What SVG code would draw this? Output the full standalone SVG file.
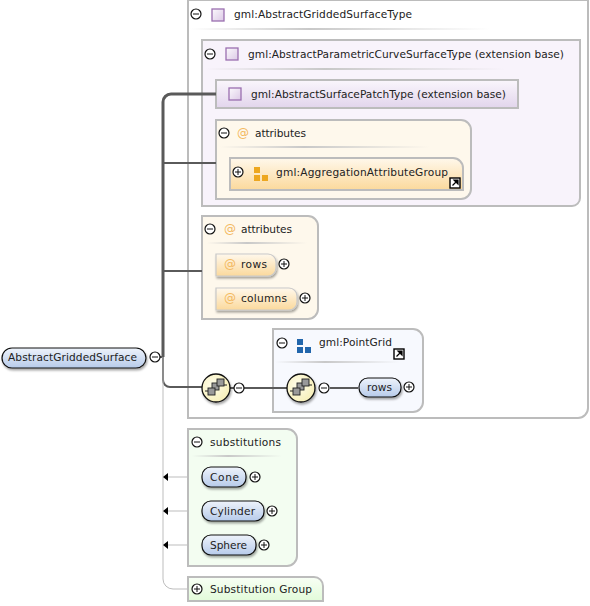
<svg xmlns="http://www.w3.org/2000/svg" width="590" height="606" viewBox="0 0 590 606">
<style>
text{font-family:"DejaVu Sans","Liberation Sans",sans-serif;font-size:10.6px;fill:#222}
.box{stroke:#bcbcbc;stroke-width:2}
.el{stroke:#111;stroke-width:1.2;fill:url(#blue)}
.tg{stroke:#111;stroke-width:1.2;fill:#fff}
.tl{stroke:#111;stroke-width:1;fill:none}
.at{stroke:#c9c9c9;stroke-width:1.2;fill:url(#orange)}
.cn{stroke:#5a5a5a;fill:none;stroke-width:2}
.cl{stroke:#bdbdbd;fill:none;stroke-width:1}
.ic{fill:url(#pur);stroke:#9a6fb0;stroke-width:1.3}
.at-i{fill:#f3b95f;font-size:12px}
.seq{fill:url(#yel);stroke:#111;stroke-width:1.3}
</style>
<defs>
<linearGradient id="blue" x1="0" y1="0" x2="0" y2="1"><stop offset="0" stop-color="#eef3fb"/><stop offset="1" stop-color="#b7cbea"/></linearGradient>
<linearGradient id="orange" x1="0" y1="0" x2="0" y2="1"><stop offset="0" stop-color="#fff8ec"/><stop offset="1" stop-color="#fbd99c"/></linearGradient>
<linearGradient id="pur" x1="0" y1="0" x2="1" y2="1"><stop offset="0" stop-color="#fbf9fc"/><stop offset="1" stop-color="#dcc9e6"/></linearGradient>
<linearGradient id="patch" x1="0" y1="0" x2="0" y2="1"><stop offset="0" stop-color="#faf6fc"/><stop offset="1" stop-color="#e2d5ec"/></linearGradient>
<linearGradient id="green" x1="0" y1="0" x2="0" y2="1"><stop offset="0" stop-color="#f8fff5"/><stop offset="1" stop-color="#e2fbd9"/></linearGradient>
<radialGradient id="yel" cx="0.4" cy="0.4" r="0.7"><stop offset="0" stop-color="#fffdeb"/><stop offset="1" stop-color="#f6eeb4"/></radialGradient>
<linearGradient id="sepg" x1="0" y1="0" x2="1" y2="0"><stop offset="0" stop-color="#ccc" stop-opacity="0"/><stop offset="0.4" stop-color="#c8c8c8"/><stop offset="1" stop-color="#ccc" stop-opacity="0"/></linearGradient>
<g id="minus"><circle r="5" class="tg"/><path d="M-3 0H3" class="tl"/></g>
<g id="plus"><circle r="5" class="tg"/><path d="M-3 0H3M0 -3V3" class="tl"/></g>
<g id="link"><rect x="-5" y="-5" width="10" height="10" fill="#fff" stroke="#000" stroke-width="1.4"/><path d="M-2.5 2.5L1.5 -1.5M-1 -3H3V1Z" stroke="#000" fill="#000" stroke-width="1.2"/></g>
<g id="seqi"><circle r="14" class="seq" filter="url(#sh)"/><path d="M-11 3H-8M8 -3H11" stroke="#222"/><rect x="-4" y="-5" width="7" height="7" fill="#999" stroke="#222" stroke-width=".9"/><rect x="1" y="-9" width="7" height="7" fill="#999" stroke="#222" stroke-width=".9"/><rect x="-8" y="0" width="7" height="7" fill="#999" stroke="#222" stroke-width=".9"/></g>
<g id="grp"><rect x="0" y="0" width="6" height="6"/><rect x="0" y="8" width="6" height="6"/><rect x="8" y="8" width="6" height="6"/></g>
<filter id="sh" x="-10%" y="-20%" width="120%" height="150%"><feDropShadow dx="1" dy="2" stdDeviation="1" flood-color="#000" flood-opacity=".35"/></filter>
</defs>

<g id="type-box"><path d="M188 0H588V408a10 10 0 0 1-10 10H188Z" fill="#fff" class="box"/><use href="#minus" x="196" y="14"/><rect x="212" y="9" width="12" height="12" class="ic"/><text x="234" y="18" textLength="178">gml:AbstractGriddedSurfaceType</text><rect x="190" y="28" width="300" height="2" fill="url(#sepg)"/></g>

<g id="param-type"><path d="M202 40H580V198a8 8 0 0 1-8 8H202Z" fill="#f8f3fb" class="box"/><use href="#minus" x="210" y="54"/><rect x="226" y="48" width="12" height="12" class="ic"/><text x="248" y="58" textLength="316">gml:AbstractParametricCurveSurfaceType (extension base)</text><rect x="205" y="68" width="300" height="2" fill="url(#sepg)"/></g>

<g id="patch-type"><rect x="216" y="80" width="302" height="28" fill="url(#patch)" class="box"/><rect x="229" y="88" width="12" height="12" class="ic"/><text x="251" y="98" textLength="255">gml:AbstractSurfacePatchType (extension base)</text></g>

<g id="attrs-inner"><path d="M216 120H461a10 10 0 0 1 10 10V189a10 10 0 0 1-10 10H216Z" fill="#fef8ec" class="box"/><use href="#minus" x="224" y="133"/><text x="237" y="137" class="at-i">@</text><text x="255" y="137" textLength="51">attributes</text><rect x="220" y="146" width="210" height="2" fill="url(#sepg)"/></g>

<g id="agg-group"><path d="M230 158H453a10 10 0 0 1 10 10V190H230Z" fill="url(#orange)" class="box"/><use href="#plus" x="238" y="172"/><use href="#grp" x="254" y="167" fill="#eda71f"/><text x="276" y="176" textLength="172">gml:AggregationAttributeGroup</text><use href="#link" x="455" y="183"/></g>

<g id="attrs-outer"><path d="M202 216H308a10 10 0 0 1 10 10V309a10 10 0 0 1-10 10H202Z" fill="#fef8ec" class="box"/><use href="#minus" x="210" y="229"/><text x="224" y="233" class="at-i">@</text><text x="241" y="233" textLength="51">attributes</text><rect x="207" y="242" width="100" height="2" fill="url(#sepg)"/></g>

<g id="attr-rows"><path d="M216 254H268a8 8 0 0 1 8 8V268a8 8 0 0 1-8 8H216Z" class="at" filter="url(#sh)"/><text x="224" y="268" class="at-i">@</text><text x="241" y="268" textLength="26">rows</text><use href="#plus" x="284" y="264"/></g>

<g id="attr-columns"><path d="M216 288H289a8 8 0 0 1 8 8V302a8 8 0 0 1-8 8H216Z" class="at" filter="url(#sh)"/><text x="224" y="302" class="at-i">@</text><text x="241" y="302" textLength="46">columns</text><use href="#plus" x="305" y="298"/></g>

<g id="point-grid"><path d="M273 329H413a10 10 0 0 1 10 10V402a10 10 0 0 1-10 10H273Z" fill="#f7f9fe" class="box"/><use href="#minus" x="282" y="343"/><use href="#grp" x="297" y="339" fill="#2166ac"/><text x="319" y="346" textLength="73">gml:PointGrid</text><use href="#link" x="399" y="354"/><rect x="275" y="361" width="125" height="2" fill="url(#sepg)"/></g>

<g id="connectors">
<path d="M163 357V102a8 8 0 0 1 8-8H216" class="cn" style="stroke-width:3"/>
<path d="M163 163H216M163 271H202" class="cn"/>
<path d="M160 357H163V380a7 7 0 0 0 7 7H202" class="cn"/>
<path d="M230 388H287M330 388H358" class="cn"/>
<path d="M163 357V579a10 10 0 0 0 10 10H188" class="cl"/>
<path d="M202 477H168M202 511H168M202 545H168" class="cl"/>
<path d="M163 477L168 473V481ZM163 511L168 507V515ZM163 545L168 541V549Z" fill="#000"/>
</g>

<g id="root"><rect x="2" y="348" width="144" height="20" rx="10" class="el" filter="url(#sh)"/><text x="8" y="361" textLength="129">AbstractGriddedSurface</text><use href="#minus" x="155" y="357"/></g>

<g id="seq1"><use href="#seqi" x="216" y="388"/><use href="#minus" x="239" y="388"/></g>
<g id="seq2"><use href="#seqi" x="301" y="388"/><use href="#minus" x="324" y="388"/></g>
<g id="el-rows"><rect x="359" y="378" width="42" height="19" rx="9" class="el" filter="url(#sh)"/><text x="367" y="391" textLength="25">rows</text><use href="#plus" x="409" y="387"/></g>

<g id="substitutions"><path d="M188 429H287a10 10 0 0 1 10 10V556a10 10 0 0 1-10 10H188Z" fill="#f3fdf1" class="box"/><use href="#minus" x="197" y="442"/><text x="210" y="446" textLength="71">substitutions</text><rect x="192" y="455" width="90" height="2" fill="url(#sepg)"/></g>
<g id="el-cone"><rect x="202" y="467" width="44" height="20" rx="9" class="el" filter="url(#sh)"/><text x="210" y="481" textLength="29">Cone</text><use href="#plus" x="255" y="477"/></g>
<g id="el-cylinder"><rect x="202" y="501" width="62" height="20" rx="9" class="el" filter="url(#sh)"/><text x="210" y="515" textLength="45">Cylinder</text><use href="#plus" x="272" y="511"/></g>
<g id="el-sphere"><rect x="202" y="535" width="54" height="20" rx="9" class="el" filter="url(#sh)"/><text x="210" y="549" textLength="37">Sphere</text><use href="#plus" x="264" y="545"/></g>

<g id="subst-group"><path d="M188 577H314a9 9 0 0 1 9 9V601H188Z" fill="url(#green)" class="box"/><use href="#plus" x="197" y="589"/><text x="210" y="593" textLength="102">Substitution Group</text></g>
</svg>
